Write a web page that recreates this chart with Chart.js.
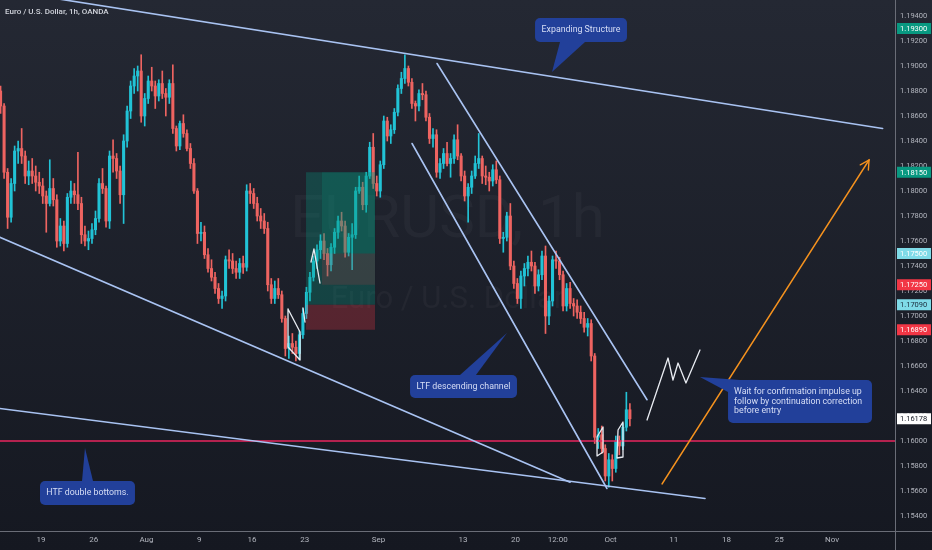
<!DOCTYPE html>
<html><head><meta charset="utf-8">
<script src="https://cdn.jsdelivr.net/npm/chart.js@4.4.0/dist/chart.umd.min.js"></script>
<style>html,body{margin:0;padding:0;background:#1b1e28;}canvas{display:block;}</style>
</head><body>
<canvas id="c" width="932" height="550" style="width:932px;height:550px"></canvas>
<script>
// ---- EUR/USD 8h-aggregated candles (x unit: trading days from 19 Jul) ----
const candleStartDay = -4, candleStepDays = 1/3;
const opens = [1.1880,1.1868,1.1815,1.1779,1.1806,1.1832,1.1834,1.1828,1.1812,1.1816,1.1812,1.1807,1.1804,1.1796,1.1790,1.1802,1.1793,1.1760,1.1772,1.1758,
1.1795,1.1800,1.1797,1.1790,1.1765,1.1760,1.1762,1.1769,1.1778,1.1806,1.1802,1.1776,1.1828,1.1826,1.1816,1.1797,1.1840,1.1864,1.1884,1.1892,
1.1896,1.1860,1.1874,1.1888,1.1884,1.1876,1.1886,1.1878,1.1875,1.1886,1.1850,1.1836,1.1854,1.1846,1.1834,1.1822,1.1800,1.1766,1.1767,1.1749,
1.1738,1.1731,1.1722,1.1714,1.1716,1.1745,1.1744,1.1738,1.1735,1.1742,1.1739,1.1800,1.1798,1.1790,1.1780,1.1776,1.1770,1.1725,1.1714,1.1722,
1.1717,1.1698,1.1674,1.1678,1.1675,1.1670,1.1685,1.1702,1.1719,1.1731,1.1744,1.1753,1.1760,1.1750,1.1741,1.1755,1.1767,1.1776,1.1772,1.1751,
1.1763,1.1765,1.1800,1.1803,1.1789,1.1812,1.1835,1.1806,1.1800,1.1821,1.1856,1.1844,1.1849,1.1863,1.1882,1.1890,1.1898,1.1887,1.1870,1.1868,
1.1878,1.1877,1.1859,1.1842,1.1845,1.1815,1.1822,1.1830,1.1822,1.1826,1.1841,1.1828,1.1812,1.1796,1.1803,1.1812,1.1822,1.1826,1.1812,1.1811,
1.1808,1.1817,1.1809,1.1762,1.1763,1.1780,1.1740,1.1726,1.1714,1.1732,1.1738,1.1743,1.1740,1.1724,1.1733,1.1748,1.1700,1.1712,1.1745,1.1744,
1.1733,1.1708,1.1722,1.1710,1.1708,1.1703,1.1698,1.1691,1.1694,1.1668,1.1603,1.1605,1.1594,1.1572,1.1585,1.1578,1.1600,1.1596,1.1611,1.1625];
const highs = [1.1884,1.1870,1.1818,1.1810,1.1836,1.1840,1.1850,1.1832,1.1824,1.1826,1.1820,1.1815,1.1810,1.1800,1.1825,1.1810,1.1797,1.1778,1.1776,1.1798,
1.1808,1.1806,1.1831,1.1795,1.1772,1.1768,1.1774,1.1784,1.1810,1.1818,1.1804,1.1832,1.1841,1.1830,1.1820,1.1845,1.1868,1.1888,1.1898,1.1900,
1.1909,1.1878,1.1892,1.1899,1.1888,1.1889,1.1896,1.1882,1.1889,1.1901,1.1852,1.1856,1.1861,1.1849,1.1838,1.1826,1.1802,1.1775,1.1772,1.1754,
1.1745,1.1735,1.1726,1.1720,1.1748,1.1753,1.1750,1.1744,1.1746,1.1748,1.1805,1.1806,1.1802,1.1795,1.1786,1.1782,1.1775,1.1730,1.1728,1.1730,
1.1720,1.1700,1.1684,1.1686,1.1680,1.1688,1.1706,1.1723,1.1735,1.1748,1.1757,1.1765,1.1766,1.1754,1.1758,1.1770,1.1780,1.1783,1.1776,1.1766,
1.1774,1.1803,1.1812,1.1807,1.1815,1.1839,1.1846,1.1812,1.1824,1.1860,1.1859,1.1853,1.1866,1.1885,1.1895,1.1909,1.1900,1.1890,1.1872,1.1881,
1.1886,1.1880,1.1862,1.1850,1.1849,1.1826,1.1834,1.1839,1.1830,1.1845,1.1853,1.1830,1.1816,1.1806,1.1816,1.1828,1.1846,1.1828,1.1820,1.1815,
1.1821,1.1824,1.1812,1.1767,1.1783,1.1790,1.1744,1.1730,1.1736,1.1742,1.1748,1.1752,1.1743,1.1737,1.1752,1.1756,1.1716,1.1748,1.1752,1.1747,
1.1736,1.1726,1.1727,1.1714,1.1713,1.1708,1.1703,1.1698,1.1697,1.1670,1.1610,1.1612,1.1597,1.1590,1.1589,1.1604,1.1604,1.1614,1.1639,1.1630];
const lows = [1.1862,1.1810,1.1770,1.1775,1.1800,1.1822,1.1822,1.1806,1.1805,1.1806,1.1800,1.1798,1.1790,1.1767,1.1788,1.1788,1.1755,1.1756,1.1752,1.1755,
1.1790,1.1790,1.1785,1.1758,1.1756,1.1753,1.1758,1.1765,1.1775,1.1798,1.1771,1.1770,1.1815,1.1810,1.1790,1.1774,1.1835,1.1858,1.1878,1.1880,
1.1855,1.1852,1.1870,1.1880,1.1866,1.1872,1.1874,1.1860,1.1870,1.1846,1.1832,1.1833,1.1843,1.1832,1.1818,1.1798,1.1758,1.1760,1.1746,1.1735,
1.1728,1.1718,1.1710,1.1706,1.1712,1.1738,1.1734,1.1730,1.1730,1.1734,1.1736,1.1790,1.1786,1.1776,1.1770,1.1766,1.1720,1.1710,1.1710,1.1714,
1.1695,1.1668,1.1666,1.1670,1.1664,1.1665,1.1682,1.1698,1.1712,1.1728,1.1738,1.1746,1.1745,1.1732,1.1736,1.1750,1.1762,1.1768,1.1747,1.1748,
1.1737,1.1762,1.1798,1.1785,1.1783,1.1810,1.1802,1.1796,1.1795,1.1818,1.1840,1.1838,1.1846,1.1860,1.1878,1.1886,1.1884,1.1866,1.1856,1.1864,
1.1873,1.1856,1.1838,1.1835,1.1811,1.1810,1.1818,1.1820,1.1811,1.1822,1.1825,1.1808,1.1792,1.1775,1.1798,1.1810,1.1818,1.1806,1.1805,1.1800,
1.1804,1.1806,1.1758,1.1751,1.1760,1.1737,1.1722,1.1710,1.1706,1.1724,1.1732,1.1736,1.1718,1.1720,1.1729,1.1686,1.1693,1.1708,1.1738,1.1729,
1.1704,1.1704,1.1706,1.1700,1.1698,1.1694,1.1687,1.1684,1.1664,1.1598,1.1594,1.1590,1.1568,1.1563,1.1568,1.1575,1.1589,1.1593,1.1608,1.1612];
const closes = [1.1868,1.1815,1.1779,1.1806,1.1832,1.1834,1.1828,1.1812,1.1816,1.1812,1.1807,1.1804,1.1796,1.1790,1.1802,1.1793,1.1760,1.1772,1.1758,1.1795,
1.1800,1.1797,1.1790,1.1765,1.1760,1.1762,1.1769,1.1778,1.1806,1.1802,1.1776,1.1828,1.1826,1.1816,1.1797,1.1840,1.1864,1.1884,1.1892,1.1896,
1.1860,1.1874,1.1888,1.1884,1.1876,1.1886,1.1878,1.1875,1.1886,1.1850,1.1836,1.1854,1.1846,1.1834,1.1822,1.1800,1.1766,1.1767,1.1749,1.1738,
1.1731,1.1722,1.1714,1.1716,1.1745,1.1744,1.1738,1.1735,1.1742,1.1739,1.1800,1.1798,1.1790,1.1780,1.1776,1.1770,1.1725,1.1714,1.1722,1.1717,
1.1698,1.1674,1.1678,1.1675,1.1670,1.1685,1.1702,1.1719,1.1731,1.1744,1.1753,1.1760,1.1750,1.1741,1.1755,1.1767,1.1776,1.1772,1.1751,1.1763,
1.1765,1.1800,1.1803,1.1789,1.1812,1.1835,1.1806,1.1800,1.1821,1.1856,1.1844,1.1849,1.1863,1.1882,1.1890,1.1898,1.1887,1.1870,1.1868,1.1878,
1.1877,1.1859,1.1842,1.1845,1.1815,1.1822,1.1830,1.1822,1.1826,1.1841,1.1828,1.1812,1.1796,1.1803,1.1812,1.1822,1.1826,1.1812,1.1811,1.1808,
1.1817,1.1809,1.1762,1.1763,1.1780,1.1740,1.1726,1.1714,1.1732,1.1738,1.1743,1.1740,1.1724,1.1733,1.1748,1.1700,1.1712,1.1745,1.1744,1.1733,
1.1708,1.1722,1.1710,1.1708,1.1703,1.1698,1.1691,1.1694,1.1668,1.1603,1.1605,1.1594,1.1572,1.1585,1.1578,1.1600,1.1596,1.1611,1.1625,1.16178];

// ---- axes ----
const xMin = -3.8874, xMax = 80.971;         // visible trading-day window
const yMin = 1.1528, yMax = 1.19528;          // visible price window
const timeTickValues = [0,5,10,15,20,25,32,40,45,49,54,60,65,70,75];
const timeTickLabels = ['19','26','Aug','9','16','23','Sep','13','20','12:00','Oct','11','18','25','Nov'];
const priceTickValues = [1.154,1.156,1.158,1.160,1.162,1.164,1.166,1.168,1.170,1.172,1.174,1.176,1.178,1.180,1.182,1.184,1.186,1.188,1.190,1.192,1.194];
const badgeValues = [1.1930,1.1815,1.1750,1.1725,1.1709,1.1689,1.16178];
const badgeFill   = ['#089981','#089981','#7fdbe8','#f23645','#7fdbe8','#f23645','#ffffff'];
const badgeText   = ['#ffffff','#ffffff','#ffffff','#ffffff','#1a2a3a','#ffffff','#131722'];

// ---- drawings (time in trading days, price) ----
const expandTop    = [[-3.9,1.1961],[79.8,1.1850]];
const expandBottom = [[-3.9,1.1763],[50.16,1.1567]];
const htfSupport   = [[-3.9,1.1626],[62.96,1.1554]];
const ltfUpper     = [[37.55,1.1902],[57.46,1.1633]];
const ltfLower     = [[35.18,1.1838],[53.66,1.1562]];
const supportLevel = 1.1600;
const projectionArrow = [[58.88,1.15656],[78.51,1.18248]];
const projectionPath = [[57.46,1.16168],[59.45,1.16664],[59.92,1.16488],[60.40,1.16624],[61.15,1.16464],[62.48,1.16728]];
const patternMarks = [
  [[23.42,1.17056],[24.56,1.16872],[24.56,1.16648],[23.42,1.16752],[23.42,1.17056]],
  [[25.60,1.17432],[25.88,1.17536],[26.45,1.17264]],
  [[24.84,1.17064],[25.03,1.16952]],
  [[52.72,1.16032],[53.29,1.16112],[53.29,1.15912],[52.72,1.15880],[52.72,1.16032]],
  [[54.71,1.16088],[55.18,1.16152],[55.18,1.15872],[54.61,1.15864],[54.71,1.16088]]
];
const longPosTime = [25.13,26.64,31.67];
const longPosPrice = {target:1.1815, entry:1.1709, stop:1.1689, mid1:1.1750, mid2:1.1725};
const callouts = [
  {lines:['Expanding Structure'], box:[46.84,1.19384,55.56,1.19192], tail:[[49.21,1.19192],[51.58,1.19192],[48.45,1.18952]], center:true},
  {lines:['LTF descending channel'], box:[34.99,1.16528,45.13,1.16344], tail:[[39.73,1.16528],[41.24,1.16528],[44.18,1.16864]], center:true},
  {lines:['HTF double bottoms.'], box:[-0.095,1.15680,8.91,1.15488], tail:[[3.89,1.15680],[4.93,1.15680],[4.17,1.15944]], center:true},
  {lines:['Wait for confirmation impulse up','follow by continuation correction','before entry'], box:[65.14,1.16488,78.79,1.16144], tail:[[66.27,1.16488],[65.14,1.16392],[62.48,1.16512]], center:false}
];

// ---- build datasets ----
const UP = '#22c3d6', DOWN = '#ee6461';
const times = closes.map((_, i) => candleStartDay + (i + 0.5) * candleStepDays);
const colors = closes.map((c, i) => c >= opens[i] ? UP : DOWN);
const wickData = times.map((t, i) => ({x: t, y: [lows[i], highs[i]]}));
const bodyData = times.map((t, i) => ({x: t, y: [Math.min(opens[i], closes[i]), Math.max(opens[i], closes[i])]}));

const FONT = 'Roboto, "Noto Sans", sans-serif';

const bgPlugin = {
  id: 'bg',
  beforeDraw(chart) {
    const c = chart.ctx;
    const g = c.createLinearGradient(0, 0, 0, chart.height);
    g.addColorStop(0, '#242833'); g.addColorStop(1, '#151821');
    c.save(); c.fillStyle = g; c.fillRect(0, 0, chart.width, chart.height); c.restore();
  },
  beforeDatasetsDraw(chart) {
    const c = chart.ctx, a = chart.chartArea;
    const cx = (a.left + a.right) / 2;
    c.save();
    c.fillStyle = 'rgba(255,255,255,0.035)';
    c.textAlign = 'center'; c.textBaseline = 'middle';
    c.font = '60px ' + FONT; c.fillText('EURUSD, 1h', cx, 222);
    c.font = '31px ' + FONT; c.fillText('Euro / U.S. Dollar', cx, 300);
    c.restore();
  }
};

const drawPlugin = {
  id: 'drawings',
  afterDatasetsDraw(chart) {
    const c = chart.ctx, a = chart.chartArea, xs = chart.scales.x, ys = chart.scales.y;
    const X = v => xs.getPixelForValue(v), Y = v => ys.getPixelForValue(v);
    c.save();
    c.beginPath(); c.rect(a.left, a.top, a.right - a.left, a.bottom - a.top); c.clip();

    // long position tool
    const [t0, t1, t2] = longPosTime, P = longPosPrice;
    const rect = (xa, pa, xb, pb, col) => { c.fillStyle = col; c.fillRect(X(xa), Y(pa), X(xb) - X(xa), Y(pb) - Y(pa)); };
    rect(t0, P.target, t2, P.entry, 'rgba(8,153,129,0.30)');
    rect(t0, P.entry, t2, P.stop, 'rgba(242,54,69,0.28)');
    rect(t1, P.target, t2, P.mid1, 'rgba(8,153,129,0.22)');
    rect(t1, P.mid1, t2, P.mid2, 'rgba(242,54,69,0.15)');

    // red support level
    c.strokeStyle = '#e8265e'; c.lineWidth = 1.5;
    c.beginPath(); c.moveTo(a.left, Y(supportLevel)); c.lineTo(a.right, Y(supportLevel)); c.stroke();

    // trend lines
    c.strokeStyle = '#a9c3f2'; c.lineWidth = 1.6; c.lineCap = 'round';
    [expandTop, expandBottom, htfSupport, ltfUpper, ltfLower].forEach(([p, q]) => {
      c.beginPath(); c.moveTo(X(p[0]), Y(p[1])); c.lineTo(X(q[0]), Y(q[1])); c.stroke();
    });

    // projection arrow
    const [s, e] = projectionArrow;
    const sx = X(s[0]), sy = Y(s[1]), ex = X(e[0]), ey = Y(e[1]);
    c.strokeStyle = '#f5921e'; c.lineWidth = 1.4;
    c.beginPath(); c.moveTo(sx, sy); c.lineTo(ex, ey); c.stroke();
    const ang = Math.atan2(ey - sy, ex - sx);
    c.beginPath();
    c.moveTo(ex - 10 * Math.cos(ang - 0.5), ey - 10 * Math.sin(ang - 0.5)); c.lineTo(ex, ey);
    c.lineTo(ex - 10 * Math.cos(ang + 0.5), ey - 10 * Math.sin(ang + 0.5)); c.stroke();

    // hand-drawn marks
    c.strokeStyle = '#e9ecf2'; c.lineWidth = 1.3; c.lineJoin = 'round';
    [projectionPath, ...patternMarks].forEach(path => {
      c.beginPath(); path.forEach((p, i) => i ? c.lineTo(X(p[0]), Y(p[1])) : c.moveTo(X(p[0]), Y(p[1]))); c.stroke();
    });

    // callouts
    callouts.forEach(co => {
      const bx = X(co.box[0]), by = Y(co.box[1]), bw = X(co.box[2]) - bx, bh = Y(co.box[3]) - by;
      c.fillStyle = '#22409a';
      c.beginPath(); c.roundRect(bx, by, bw, bh, 5); c.fill();
      c.beginPath(); co.tail.forEach((p, i) => i ? c.lineTo(X(p[0]), Y(p[1])) : c.moveTo(X(p[0]), Y(p[1]))); c.closePath(); c.fill();
      c.fillStyle = '#d7def6'; c.font = '8.8px ' + FONT; c.textBaseline = 'middle';
      const lh = 9.6, n = co.lines.length, y0 = by + bh / 2 - (n - 1) * lh / 2;
      co.lines.forEach((l, i) => {
        if (co.center) { c.textAlign = 'center'; c.fillText(l, bx + bw / 2, y0 + i * lh); }
        else { c.textAlign = 'left'; c.fillText(l, bx + 6, y0 + i * lh); }
      });
    });
    c.restore();

    // title
    c.save();
    c.fillStyle = '#d1d4dc'; c.font = '500 8px ' + FONT; c.textBaseline = 'middle'; c.textAlign = 'left';
    c.fillText('Euro / U.S. Dollar, 1h, OANDA', 5, 12);
    c.restore();
  },
  afterDraw(chart) {
    const c = chart.ctx, a = chart.chartArea, ys = chart.scales.y;
    c.save();
    c.strokeStyle = '#6a6d77'; c.lineWidth = 1;
    c.beginPath(); c.moveTo(0, Math.round(a.bottom) + 0.5); c.lineTo(chart.width, Math.round(a.bottom) + 0.5); c.stroke();
    c.beginPath(); c.moveTo(Math.round(a.right) + 0.5, 0); c.lineTo(Math.round(a.right) + 0.5, chart.height); c.stroke();
    // price badges
    c.font = '7.5px ' + FONT; c.textBaseline = 'middle'; c.textAlign = 'left';
    badgeValues.forEach((v, i) => {
      const y = ys.getPixelForValue(v);
      c.fillStyle = badgeFill[i];
      c.fillRect(a.right + 2, y - 5.5, chart.width - a.right - 3, 11);
      c.fillStyle = badgeText[i];
      c.fillText(v.toFixed(5), a.right + 5, y + 0.5);
    });
    c.restore();
  }
};

const noPad = s => { s.paddingTop = 0; s.paddingBottom = 0; s.paddingLeft = 0; s.paddingRight = 0; };

const chart = new Chart(document.getElementById('c'), {
  type: 'bar',
  data: {
    datasets: [
      {data: wickData, backgroundColor: colors, barThickness: 1, grouped: false, borderWidth: 0},
      {data: bodyData, backgroundColor: colors, barThickness: 2.4, grouped: false, borderWidth: 0, minBarLength: 1}
    ]
  },
  options: {
    responsive: false, animation: false, devicePixelRatio: 1,
    layout: {padding: 0},
    plugins: {legend: {display: false}, tooltip: {enabled: false}},
    scales: {
      x: {
        type: 'linear', min: xMin, max: xMax, offset: false,
        afterBuildTicks: s => { s.ticks = timeTickValues.map(v => ({value: v})); },
        afterFit: s => { s.height = 19; noPad(s); },
        ticks: {
          callback: v => { const i = timeTickValues.indexOf(v); return i >= 0 ? timeTickLabels[i] : ''; },
          color: '#b2b5be', font: {size: 8, family: FONT}, maxRotation: 0, autoSkip: false, padding: 4
        },
        grid: {display: false, drawTicks: false},
        border: {display: false}
      },
      y: {
        position: 'right', min: yMin, max: yMax,
        afterBuildTicks: s => { s.ticks = priceTickValues.map(v => ({value: v})); },
        afterFit: s => { s.width = 37; noPad(s); },
        ticks: {
          callback: v => v.toFixed(5),
          color: '#b2b5be', font: {size: 7.5, family: FONT}, autoSkip: false, padding: 5
        },
        grid: {display: false, drawTicks: false},
        border: {display: false}
      }
    }
  },
  plugins: [bgPlugin, drawPlugin]
});
</script>
</body></html>
